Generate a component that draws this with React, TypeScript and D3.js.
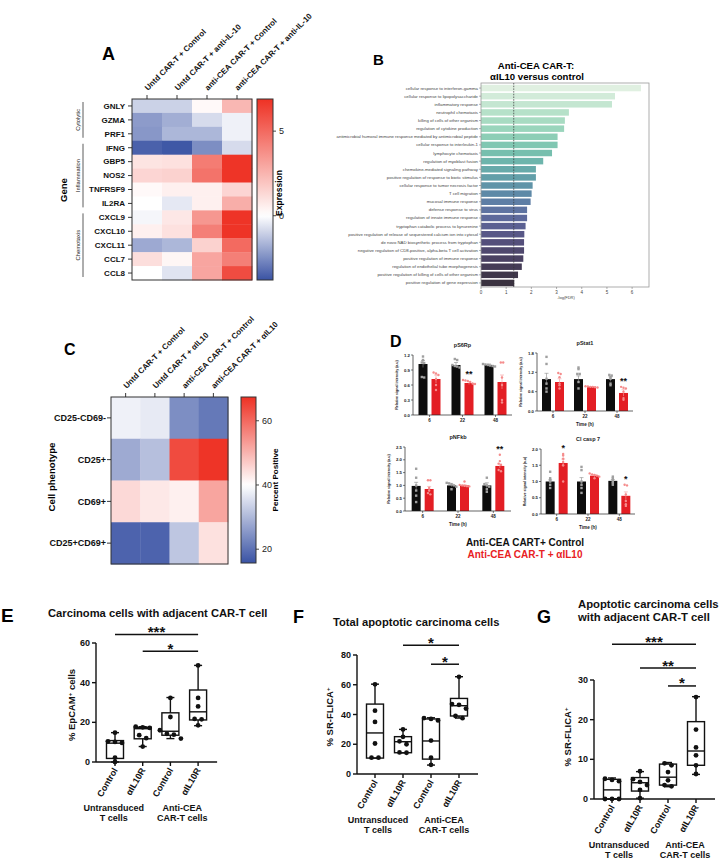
import React from 'react';
import * as d3 from 'd3';

const SANS = '"Liberation Sans", Arial, Helvetica, sans-serif';
const BLUE = '#3a53a4';
const RED = '#ee3124';

// ---------------- Panel A data ----------------
const genesA = ['GNLY', 'GZMA', 'PRF1', 'IFNG', 'GBP5', 'NOS2', 'TNFRSF9', 'IL2RA', 'CXCL9', 'CXCL10', 'CXCL11', 'CCL7', 'CCL8'];
const conditionsA = ['Untd CAR-T + Control', 'Untd CAR-T + anti-IL-10', 'anti-CEA CAR-T + Control', 'anti-CEA CAR-T + anti-IL-10'];
const expressionA = [
  [-1.0, -1.0, 0.2, 2.4],
  [-2.2, -1.8, -0.8, -0.3],
  [-2.3, -1.6, -1.6, -0.3],
  [-3.5, -3.7, -2.5, -0.8],
  [0.9, 1.0, 4.4, 6.8],
  [1.4, 1.5, 4.7, 6.8],
  [0.2, 0.5, 0.5, 1.4],
  [0.0, -0.5, 0.5, 2.7],
  [-0.2, 0.8, 3.5, 6.8],
  [0.5, 1.0, 4.3, 6.8],
  [-1.9, -1.6, 1.5, 5.0],
  [1.1, 0.3, 3.0, 4.3],
  [0.0, -0.6, 3.0, 6.0],
];
const geneGroupsA = ['Cytolytic', 'Inflammation', 'Chemotaxis'];
const geneGroupFirstA = ['GNLY', 'IFNG', 'CXCL9'];
const geneGroupLastA = ['PRF1', 'IL2RA', 'CCL8'];
const expressionRangeA = [-3.8, 0, 6.9];
const expressionTicksA = [0, 5];

// ---------------- Panel B data ----------------
const goTermsB = [
  'cellular response to interferon-gamma',
  'cellular response to lipopolysaccharide',
  'inflammatory response',
  'neutrophil chemotaxis',
  'killing of cells of other organism',
  'regulation of cytokine production',
  'antimicrobial humoral immune response mediated by antimicrobial peptide',
  'cellular response to interleukin-1',
  'lymphocyte chemotaxis',
  'regulation of myoblast fusion',
  'chemokine-mediated signaling pathway',
  'positive regulation of response to biotic stimulus',
  'cellular response to tumor necrosis factor',
  'T cell migration',
  'mucosal immune response',
  'defense response to virus',
  'regulation of innate immune response',
  'tryptophan catabolic process to kynurenine',
  'positive regulation of release of sequestered calcium ion into cytosol',
  'de novo NAD biosynthetic process from tryptophan',
  'negative regulation of CD8-positive, alpha-beta T cell activation',
  'positive regulation of immune response',
  'regulation of endothelial tube morphogenesis',
  'positive regulation of killing of cells of other organism',
  'positive regulation of gene expression',
];
const goNegLogFdrB = [6.35, 5.32, 5.2, 3.49, 3.33, 3.3, 3.04, 3.04, 2.82, 2.47, 2.18, 2.18, 2.05, 2.01, 1.97, 1.83, 1.83, 1.77, 1.72, 1.71, 1.71, 1.68, 1.62, 1.47, 1.32];
const goThresholdB = 1.3;
const goTicksB = [0, 1, 2, 3, 4, 5, 6];
const goPaletteB = ['#e0f0e1', '#a8dcc0', '#70c2ab', '#5b93a8', '#6168a4', '#50456c', '#3a3240'];

// ---------------- Panel C data ----------------
const phenotypesC = ['CD25-CD69-', 'CD25+', 'CD69+', 'CD25+CD69+'];
const conditionsC = ['Untd CAR-T + Control', 'Untd CAR-T + αIL10', 'anti-CEA CAR-T + Control', 'anti-CEA CAR-T + αIL10'];
const percentC = [
  [38, 37, 24, 21],
  [28, 31, 64, 67],
  [45, 43, 42, 52],
  [18, 18, 32, 44],
];
const percentRangeC = [15.7, 40, 67.4];
const percentTicksC = [20, 40, 60];

// ---------------- Panel D data ----------------
const timepointsD = ['6', '22', '48'];
const markersD = ['pS6Rp', 'pStat1', 'pNFkb', 'Cl casp 7'];
const ctrlMeanD = [[1.02, 1.0, 1.0], [0.99, 0.99, 0.99], [0.98, 1.0, 1.0], [1.0, 1.0, 1.02]];
const ctrlSemD = [[0.07, 0.05, 0.02], [0.18, 0.1, 0.07], [0.14, 0.05, 0.1], [0.05, 0.12, 0.04]];
const ail10MeanD = [[0.72, 0.64, 0.66], [0.9, 0.75, 0.56], [0.86, 1.0, 1.76], [1.57, 1.18, 0.56]];
const ail10SemD = [[0.08, 0.03, 0.14], [0.1, 0.01, 0.1], [0.1, 0.03, 0.08], [0.12, 0.03, 0.12]];
const ctrlPointsD = [
  [[1.17, 1.1, 1.05, 1.04, 0.76, 0.75], [1.12, 1.1, 1.0, 0.98, 0.97, 0.95], [1.02, 1.01, 1.0, 0.99, 0.98, 0.97]],
  [[1.68, 1.46, 1.0, 0.85, 0.7, 0.6], [1.35, 1.3, 1.15, 1.15, 0.9, 0.7], [1.12, 1.1, 1.05, 1.0, 0.85, 0.8]],
  [[1.65, 1.3, 1.0, 0.8, 0.6, 0.35], [1.1, 1.08, 1.05, 1.0, 0.95, 0.85], [1.3, 1.05, 1.0, 0.95, 0.85, 0.75]],
  [[1.3, 1.1, 1.05, 1.0, 0.9, 0.8], [1.45, 1.35, 1.0, 0.9, 0.8, 0.65], [1.15, 1.1, 1.05, 1.0, 0.95, 0.9]],
];
const ail10PointsD = [
  [[0.83, 0.85, 0.8, 0.72, 0.6, 0.5], [0.7, 0.69, 0.68, 0.66, 0.63, 0.62], [1.05, 1.05, 0.75, 0.6, 0.3, 0.25]],
  [[1.18, 1.15, 1.05, 0.85, 0.8, 0.7], [0.77, 0.76, 0.75, 0.75, 0.74, 0.73], [0.75, 0.72, 0.7, 0.6, 0.4, 0.35]],
  [[1.2, 1.2, 0.9, 0.8, 0.7, 0.65], [1.15, 1.02, 1.0, 0.98, 0.97, 0.96], [2.2, 1.95, 1.85, 1.8, 1.6, 1.55]],
  [[1.85, 1.8, 1.7, 1.6, 1.5, 1.0], [1.25, 1.22, 1.2, 1.18, 1.15, 1.1], [0.9, 0.88, 0.6, 0.4, 0.3, 0.25]],
];
const starsD = [['', '**', ''], ['', '', '**'], ['', '', '**'], ['*', '', '*']];
const yMaxD = [1.2, 1.8, 2.5, 2.0];
const yTicksD = [[0, 0.3, 0.6, 0.9, 1.2], [0, 0.6, 1.2, 1.8], [0, 0.5, 1.0, 1.5, 2.0, 2.5], [0, 0.5, 1.0, 1.5, 2.0]];
const legendD = ['Anti-CEA CART+ Control', 'Anti-CEA CAR-T + αIL10'];

// ---------------- Panels E, F, G data ----------------
const boxCategories = ['Control', 'αIL10R', 'Control', 'αIL10R'];
const boxGroups = [['Untransduced', 'T cells'], ['Anti-CEA', 'CAR-T cells']];

const boxStatsE = [[0, 1.8, 9.5, 10.8, 14.8], [7.8, 11.7, 16.8, 17.5, 17.8], [11.8, 13.5, 15.5, 24.8, 32.5], [18.3, 21.2, 25.3, 36.3, 48.7]];
const boxPointsE = [[0, 2.2, 9.6, 10.1, 10.4, 14.8], [7.8, 12.0, 13.5, 17.2, 17.5, 17.8], [11.8, 13.8, 14.2, 16.0, 22.7, 32.3], [18.5, 21.5, 21.7, 28.0, 32.3, 48.7]];
const sigFromE = [0, 1];
const sigToE = [3, 3];
const sigLevelE = [64.3, 55.8];
const sigLabelE = ['***', '*'];

const boxStatsF = [[10.7, 10.7, 27.6, 47, 60.4], [14.2, 14.3, 21.7, 25.1, 30], [6, 10, 22.2, 37, 37.8], [37.6, 39, 45.9, 50.8, 65.4]];
const boxPointsF = [[11, 11, 20.5, 35, 42.6, 60.3], [14.3, 14.5, 20, 22, 25, 30], [6.2, 11, 22.5, 36, 37, 37.6], [37.5, 39, 44, 46.5, 47, 65.3]];
const sigFromF = [1, 2];
const sigToF = [3, 3];
const sigLevelF = [86.6, 73.8];
const sigLabelF = ['*', '*'];

const boxStatsG = [[0, 0, 2.3, 4.96, 5.3], [0.2, 2, 4.1, 5.4, 6.9], [3.1, 3.5, 5.5, 8.8, 9.2], [6.2, 8.5, 12.1, 19.5, 25.8]];
const boxPointsG = [[0, 0, 0, 4.5, 4.8, 5.1], [0.2, 2.3, 3.5, 4.3, 5, 7], [3.2, 3.5, 4.7, 6.8, 8.5, 9], [6.3, 8.5, 11, 13, 17.5, 25.7]];
const sigFromG = [0, 1, 2];
const sigToG = [3, 3, 3];
const sigLevelG = [39, 33, 28.5];
const sigLabelG = ['***', '**', '*'];

// ---------------- helpers ----------------
function divergingColor(domain: number[]) {
  return d3.scaleLinear<string>().domain(domain).range([BLUE, '#ffffff', RED]).interpolate(d3.interpolateRgb).clamp(true);
}

function dodge(pys: number[], gap: number, step: number): number[] {
  const idx = pys.map((_, i) => i).sort((a, b) => pys[a] - pys[b]);
  const off = new Array(pys.length).fill(0);
  let cluster: number[] = [];
  const flush = () => {
    const k = cluster.length;
    cluster.forEach((id, j) => { off[id] = (j - (k - 1) / 2) * step; });
    cluster = [];
  };
  idx.forEach((id) => {
    if (cluster.length && pys[id] - pys[cluster[cluster.length - 1]] > gap) flush();
    cluster.push(id);
  });
  flush();
  return off;
}

function Heatmap(props: any) {
  const { rows, cols, values, x0, x1, y0, y1, color, rowFont, colFont, rowLabelX } = props;
  const xb = d3.scaleBand<string>().domain(cols).range([x0, x1]);
  const yb = d3.scaleBand<string>().domain(rows).range([y0, y1]);
  return (
    <g>
      {rows.map((r: string, i: number) => cols.map((c: string, j: number) => (
        <rect key={r + c} x={xb(c)} y={yb(r)} width={xb.bandwidth() + 0.4} height={yb.bandwidth() + 0.4}
          fill={color(values[i][j])} />
      )))}
      <rect x={x0} y={y0} width={x1 - x0} height={y1 - y0} fill="none" stroke="#333" strokeWidth={1} />
      {cols.map((c: string) => {
        const cx = (xb(c) as number) + xb.bandwidth() / 2;
        return (
          <g key={c}>
            <line x1={cx} x2={cx} y1={y0} y2={y0 - 4} stroke="#222" strokeWidth={0.9} />
            <text transform={`translate(${cx + 1},${y0 - 8}) rotate(-45)`} fontSize={colFont} fontWeight="bold" fill="#111">{c}</text>
          </g>
        );
      })}
      {rows.map((r: string) => {
        const cy = (yb(r) as number) + yb.bandwidth() / 2;
        return (
          <g key={r}>
            <line x1={x0 - 4} x2={x0} y1={cy} y2={cy} stroke="#222" strokeWidth={0.9} />
            <text x={rowLabelX} y={cy} dy="0.35em" textAnchor="end" fontSize={rowFont} fontWeight="bold" fill="#111">{r}</text>
          </g>
        );
      })}
    </g>
  );
}

function ColorBar(props: any) {
  const { id, x, w, y0, y1, domain, color, ticks, fontSize } = props;
  const lo = domain[0];
  const hi = domain[domain.length - 1];
  const ys = d3.scaleLinear().domain([lo, hi]).range([y1, y0]);
  const stops = d3.range(0, 41).map((i) => i / 40);
  return (
    <g>
      <defs>
        <linearGradient id={id} x1="0" y1="1" x2="0" y2="0">
          {stops.map((t) => <stop key={t} offset={t} stopColor={color(lo + t * (hi - lo))} />)}
        </linearGradient>
      </defs>
      <rect x={x} y={y0} width={w} height={y1 - y0} fill={`url(#${id})`} stroke="#333" strokeWidth={1} />
      {ticks.map((t: number) => (
        <g key={t}>
          <line x1={x + w} x2={x + w + 3} y1={ys(t)} y2={ys(t)} stroke="#333" strokeWidth={0.9} />
          <text x={x + w + 6} y={ys(t)} dy="0.35em" fontSize={fontSize} fill="#222">{t}</text>
        </g>
      ))}
    </g>
  );
}

// ---------------- Panels ----------------
function PanelA() {
  const x0 = 132, x1 = 252, y0 = 99, y1 = 280;
  const color = divergingColor(expressionRangeA);
  const yb = d3.scaleBand<string>().domain(genesA).range([y0, y1]);
  return (
    <g>
      <text x={102} y={60} fontSize={18} fontWeight="bold">A</text>
      <Heatmap rows={genesA} cols={conditionsA} values={expressionA} x0={x0} x1={x1} y0={y0} y1={y1}
        color={color} rowFont={8} colFont={8} rowLabelX={125} />
      {geneGroupsA.map((g, i) => {
        const top = (yb(geneGroupFirstA[i]) as number) + 3;
        const bot = (yb(geneGroupLastA[i]) as number) + yb.bandwidth() - 3;
        return (
          <g key={g}>
            <line x1={83} x2={83} y1={top} y2={bot} stroke="#333" strokeWidth={0.8} />
            <text transform={`translate(80,${(top + bot) / 2}) rotate(-90)`} textAnchor="middle" fontSize={5.8} fill="#222">{g}</text>
          </g>
        );
      })}
      <text transform="translate(67,190) rotate(-90)" textAnchor="middle" fontSize={9.5} fontWeight="bold">Gene</text>
      <ColorBar id="cbA" x={257} w={16} y0={y0} y1={y1} domain={expressionRangeA} color={color} ticks={expressionTicksA} fontSize={9} />
      <text transform="translate(282,193) rotate(-90)" textAnchor="middle" fontSize={8.5} fontWeight="bold">Expression</text>
    </g>
  );
}

function PanelB() {
  const x = d3.scaleLinear().domain([0, 6.67]).range([481, 649]);
  const y = d3.scaleBand<string>().domain(goTermsB).range([84, 287]).paddingInner(0.2).paddingOuter(0.1);
  const color = d3.scaleSequential(d3.interpolateRgbBasis(goPaletteB)).domain([0, goTermsB.length - 1]);
  return (
    <g>
      <text x={373} y={65} fontSize={15} fontWeight="bold">B</text>
      <text x={536} y={69} textAnchor="middle" fontSize={9.6} fontWeight="bold">Anti-CEA CAR-T:</text>
      <text x={537} y={80} textAnchor="middle" fontSize={9.6} fontWeight="bold">αIL10 versus control</text>
      {goTermsB.map((t, i) => (
        <rect key={t} x={x(0)} y={y(t)} width={x(goNegLogFdrB[i]) - x(0)} height={y.bandwidth()} fill={color(i)} />
      ))}
      <rect x={x(0)} y={83} width={x(6.67) - x(0)} height={204} fill="none" stroke="#9a9a9a" strokeWidth={0.8} />
      <line x1={x(goThresholdB)} x2={x(goThresholdB)} y1={83} y2={287} stroke="#333" strokeWidth={0.7} strokeDasharray="1.5,1.2" />
      {goTermsB.map((t) => {
        const cy = (y(t) as number) + y.bandwidth() / 2;
        return (
          <g key={t}>
            <line x1={x(0) - 2} x2={x(0)} y1={cy} y2={cy} stroke="#666" strokeWidth={0.5} />
            <text x={x(0) - 3} y={cy} dy="0.35em" textAnchor="end" fontSize={4.3} fill="#444">{t}</text>
          </g>
        );
      })}
      {goTicksB.map((t) => (
        <g key={t}>
          <line x1={x(t)} x2={x(t)} y1={287} y2={289} stroke="#666" strokeWidth={0.5} />
          <text x={x(t)} y={293.5} textAnchor="middle" fontSize={4.5} fill="#444">{t}</text>
        </g>
      ))}
      <text x={566} y={298.5} textAnchor="middle" fontSize={4} fill="#444">-log(FDR)</text>
    </g>
  );
}

function PanelC() {
  const x0 = 111, x1 = 228, y0 = 397, y1 = 564;
  const color = divergingColor(percentRangeC);
  return (
    <g>
      <text x={64} y={355} fontSize={16} fontWeight="bold">C</text>
      <Heatmap rows={phenotypesC} cols={conditionsC} values={percentC} x0={x0} x1={x1} y0={y0} y1={y1}
        color={color} rowFont={9} colFont={8} rowLabelX={106} />
      <text transform="translate(55,477) rotate(-90)" textAnchor="middle" fontSize={9.6} fontWeight="bold">Cell phenotype</text>
      <ColorBar id="cbC" x={241} w={15} y0={y0} y1={563} domain={percentRangeC} color={color} ticks={percentTicksC} fontSize={9} />
      <text transform="translate(278,480) rotate(-90)" textAnchor="middle" fontSize={8.1} fontWeight="bold">Percent Positive</text>
    </g>
  );
}

const layoutD = [
  { x0: 413, x1: 512, yBottom: 415, yTop: 355, time: false },
  { x0: 537, x1: 633, yBottom: 411, yTop: 353, time: true },
  { x0: 405, x1: 511, yBottom: 511, yTop: 447, time: true },
  { x0: 541, x1: 635, yBottom: 514, yTop: 449, time: true },
];

function BarChartD({ k }: { k: number }) {
  const L = layoutD[k];
  const x = d3.scaleBand<string>().domain(timepointsD).range([L.x0, L.x1]);
  const y = d3.scaleLinear().domain([0, yMaxD[k]]).range([L.yBottom, L.yTop]);
  const bw = 9;
  const off = 6.5;
  const fmt = d3.format('.1f');
  const series = [
    { mean: ctrlMeanD[k], sem: ctrlSemD[k], pts: ctrlPointsD[k], fill: '#0d0d0d', err: '#8a8a8a', pt: '#a0a0a0', sq: true, dx: -off },
    { mean: ail10MeanD[k], sem: ail10SemD[k], pts: ail10PointsD[k], fill: '#e31e24', err: '#f3a0a0', pt: '#f58c8c', sq: false, dx: off },
  ];
  const cxOf = (t: string) => (x(t) as number) + x.bandwidth() / 2;
  return (
    <g>
      <text x={(L.x0 + L.x1) / 2} y={L.yTop - 8} textAnchor="middle" fontSize={5.5} fontWeight="bold" fill="#222">{markersD[k]}</text>
      {series.map((s, si) => timepointsD.map((t, ti) => {
        const cx = cxOf(t) + s.dx;
        const pys = s.pts[ti].map((v) => y(v));
        const dxs = dodge(pys, 1.6, 2.4);
        const top = y(s.mean[ti] + s.sem[ti]);
        return (
          <g key={si + t}>
            <rect x={cx - bw / 2} y={y(s.mean[ti])} width={bw} height={L.yBottom - y(s.mean[ti])} fill={s.fill} />
            <line x1={cx} x2={cx} y1={y(s.mean[ti] - s.sem[ti])} y2={top} stroke={s.err} strokeWidth={0.6} />
            <line x1={cx - 2} x2={cx + 2} y1={top} y2={top} stroke={s.err} strokeWidth={0.6} />
            {pys.map((py, pi) => s.sq
              ? <rect key={pi} x={cx + dxs[pi] - 1.2} y={py - 1.2} width={2.4} height={2.4} fill={s.pt} />
              : <circle key={pi} cx={cx + dxs[pi]} cy={py} r={1.2} fill={s.pt} />)}
          </g>
        );
      }))}
      {timepointsD.map((t, ti) => {
        const star = starsD[k][ti];
        if (!star) return null;
        const hi = Math.max(d3.max(ail10PointsD[k][ti]) as number, ail10MeanD[k][ti] + ail10SemD[k][ti]);
        return <text key={'s' + t} x={cxOf(t) + off} y={y(hi) - 3} textAnchor="middle" fontSize={9} fontWeight="bold" fill="#111">{star}</text>;
      })}
      <line x1={L.x0} x2={L.x0} y1={L.yTop} y2={L.yBottom} stroke="#222" strokeWidth={0.7} />
      <line x1={L.x0} x2={L.x1} y1={L.yBottom} y2={L.yBottom} stroke="#222" strokeWidth={0.7} />
      {yTicksD[k].map((t) => (
        <g key={t}>
          <line x1={L.x0 - 2} x2={L.x0} y1={y(t)} y2={y(t)} stroke="#222" strokeWidth={0.6} />
          <text x={L.x0 - 3} y={y(t)} dy="0.35em" textAnchor="end" fontSize={4.3} fontWeight="bold" fill="#222">{fmt(t)}</text>
        </g>
      ))}
      {timepointsD.map((t) => (
        <g key={'x' + t}>
          <line x1={cxOf(t)} x2={cxOf(t)} y1={L.yBottom} y2={L.yBottom + 2} stroke="#222" strokeWidth={0.6} />
          <text x={cxOf(t)} y={L.yBottom + 7} textAnchor="middle" fontSize={4.5} fontWeight="bold" fill="#222">{t}</text>
        </g>
      ))}
      {L.time && <text x={(L.x0 + L.x1) / 2} y={L.yBottom + 14.5} textAnchor="middle" fontSize={4.6} fontWeight="bold" fill="#222">Time (h)</text>}
      <text transform={`translate(${L.x0 - 15},${(L.yTop + L.yBottom) / 2}) rotate(-90)`} textAnchor="middle" fontSize={3.6} fontWeight="bold" fill="#222">Relative signal intensity (a.u)</text>
    </g>
  );
}

function PanelD() {
  return (
    <g>
      <text x={390} y={347} fontSize={16} fontWeight="bold">D</text>
      {markersD.map((m, k) => <BarChartD key={m} k={k} />)}
      <text x={525} y={546} textAnchor="middle" fontSize={10} fontWeight="bold" fill="#111">{legendD[0]}</text>
      <text x={525} y={558} textAnchor="middle" fontSize={10} fontWeight="bold" fill="#e8211f">{legendD[1]}</text>
    </g>
  );
}

function BoxPanel(props: any) {
  const { cfg, stats, points, sigFrom, sigTo, sigLevel, sigLabel } = props;
  const y = d3.scaleLinear().domain([0, cfg.yMax]).range([cfg.y0, cfg.yTop]);
  const x = d3.scalePoint<number>().domain([0, 1, 2, 3]).range([cfg.cat0, cfg.cat0 + 3 * cfg.step]);
  const xEnd = cfg.cat0 + 3 * cfg.step + 19;
  const bw = 17;
  return (
    <g>
      <text x={cfg.letterX} y={cfg.letterY} fontSize={cfg.letterSize} fontWeight="bold">{cfg.letter}</text>
      {cfg.title.map((t: string, i: number) => (
        <text key={t} x={cfg.titleX} y={cfg.titleY + i * cfg.titleStep} fontSize={cfg.titleSize} fontWeight="bold" fill="#111">{t}</text>
      ))}
      <text transform={`translate(${cfg.yLabelX},${cfg.yLabelY}) rotate(-90)`} textAnchor="middle" fontSize={9.5} fontWeight="bold" fill="#111">
        {cfg.yLabel}<tspan fontSize={6} dy={-3.5}>+</tspan><tspan dy={3.5}>{cfg.yLabelTail}</tspan>
      </text>
      {/* axes */}
      <line x1={cfg.axisX} x2={cfg.axisX} y1={cfg.yTop} y2={cfg.y0} stroke="#111" strokeWidth={1.4} />
      <line x1={cfg.axisX} x2={xEnd} y1={cfg.y0} y2={cfg.y0} stroke="#111" strokeWidth={1.4} />
      {cfg.ticks.map((t: number) => (
        <g key={t}>
          <line x1={cfg.axisX - 4} x2={cfg.axisX} y1={y(t)} y2={y(t)} stroke="#111" strokeWidth={1.4} />
          <text x={cfg.axisX - 6} y={y(t)} dy="0.35em" textAnchor="end" fontSize={9} fontWeight="bold" fill="#111">{t}</text>
        </g>
      ))}
      {boxCategories.map((c, i) => (
        <g key={i}>
          <line x1={x(i)} x2={x(i)} y1={cfg.y0} y2={cfg.y0 + 4} stroke="#111" strokeWidth={1.4} />
          <text transform={`translate(${(x(i) as number) + 3},${cfg.y0 + 8}) rotate(-60)`} textAnchor="end" fontSize={9} fontWeight="bold" fill="#111">{c}</text>
        </g>
      ))}
      {boxGroups.map((g, gi) => {
        const cx = ((x(gi * 2) as number) + (x(gi * 2 + 1) as number)) / 2 + cfg.groupOffsets[gi];
        return g.map((line, li) => (
          <text key={gi + line} x={cx} y={cfg.y0 + 49 + li * 10} textAnchor="middle" fontSize={9} fontWeight="bold" fill="#111">{line}</text>
        ));
      })}
      {/* boxes */}
      {stats.map((s: number[], i: number) => {
        const cx = x(i) as number;
        return (
          <g key={'b' + i} stroke="#111" strokeWidth={1.4} fill="none">
            <line x1={cx} x2={cx} y1={y(s[0])} y2={y(s[1])} />
            <line x1={cx} x2={cx} y1={y(s[3])} y2={y(s[4])} />
            <line x1={cx - 4} x2={cx + 4} y1={y(s[0])} y2={y(s[0])} />
            <line x1={cx - 4} x2={cx + 4} y1={y(s[4])} y2={y(s[4])} />
            <rect x={cx - bw / 2} y={y(s[3])} width={bw} height={Math.max(0.5, y(s[1]) - y(s[3]))} />
            <line x1={cx - bw / 2} x2={cx + bw / 2} y1={y(s[2])} y2={y(s[2])} />
          </g>
        );
      })}
      {points.map((pts: number[], i: number) => {
        const cx = x(i) as number;
        const pys = pts.map((v) => y(v));
        const dxs = dodge(pys, 4, 7);
        return pys.map((py, pi) => <circle key={i + '-' + pi} cx={cx + dxs[pi]} cy={py} r={2.4} fill="#111" />);
      })}
      {sigFrom.map((f: number, i: number) => {
        const xa = x(f) as number;
        const xb = x(sigTo[i]) as number;
        const yy = y(sigLevel[i]);
        return (
          <g key={'sig' + i}>
            <line x1={xa} x2={xb} y1={yy} y2={yy} stroke="#111" strokeWidth={1.5} />
            <text x={(xa + xb) / 2} y={yy + 2.5} textAnchor="middle" fontSize={15} fontWeight="bold" fill="#111">{sigLabel[i]}</text>
          </g>
        );
      })}
    </g>
  );
}

const cfgE = {
  letter: 'E', letterX: 1, letterY: 622, letterSize: 19,
  title: ['Carcinoma cells with adjacent CAR-T cell'], titleX: 48, titleY: 617, titleSize: 11.2, titleStep: 12,
  yLabel: '% EpCAM', yLabelTail: ' cells', yLabelX: 75, yLabelY: 705,
  axisX: 96, y0: 762, yTop: 643, yMax: 60, ticks: [0, 20, 40, 60], cat0: 115, step: 27.7, groupOffsets: [-15, -2],
};
const cfgF = {
  letter: 'F', letterX: 293, letterY: 623, letterSize: 18,
  title: ['Total apoptotic carcinoma cells'], titleX: 333, titleY: 626, titleSize: 11.2, titleStep: 12,
  yLabel: '% SR-FLICA', yLabelTail: '', yLabelX: 333, yLabelY: 717,
  axisX: 357, y0: 774, yTop: 655, yMax: 80, ticks: [0, 20, 40, 60, 80], cat0: 375, step: 28, groupOffsets: [-11, -1],
};
const cfgG = {
  letter: 'G', letterX: 537, letterY: 623, letterSize: 18,
  title: ['Apoptotic carcinoma cells', 'with adjacent CAR-T cell'], titleX: 578, titleY: 608, titleSize: 11.3, titleStep: 12.5,
  yLabel: '% SR-FLICA', yLabelTail: '', yLabelX: 571, yLabelY: 737,
  axisX: 594, y0: 799, yTop: 680, yMax: 30, ticks: [0, 10, 20, 30], cat0: 612, step: 28, groupOffsets: [-7, 3],
};

export default function App() {
  return (
    <svg width={728} height={860} viewBox="0 0 728 860" fontFamily={SANS}
      style={{ position: 'absolute', left: 0, top: 0, display: 'block', background: '#ffffff' }}>
      <rect x={0} y={0} width={728} height={860} fill="#ffffff" />
      <PanelA />
      <PanelB />
      <PanelC />
      <PanelD />
      <BoxPanel cfg={cfgE} stats={boxStatsE} points={boxPointsE} sigFrom={sigFromE} sigTo={sigToE} sigLevel={sigLevelE} sigLabel={sigLabelE} />
      <BoxPanel cfg={cfgF} stats={boxStatsF} points={boxPointsF} sigFrom={sigFromF} sigTo={sigToF} sigLevel={sigLevelF} sigLabel={sigLabelF} />
      <BoxPanel cfg={cfgG} stats={boxStatsG} points={boxPointsG} sigFrom={sigFromG} sigTo={sigToG} sigLevel={sigLevelG} sigLabel={sigLabelG} />
    </svg>
  );
}
